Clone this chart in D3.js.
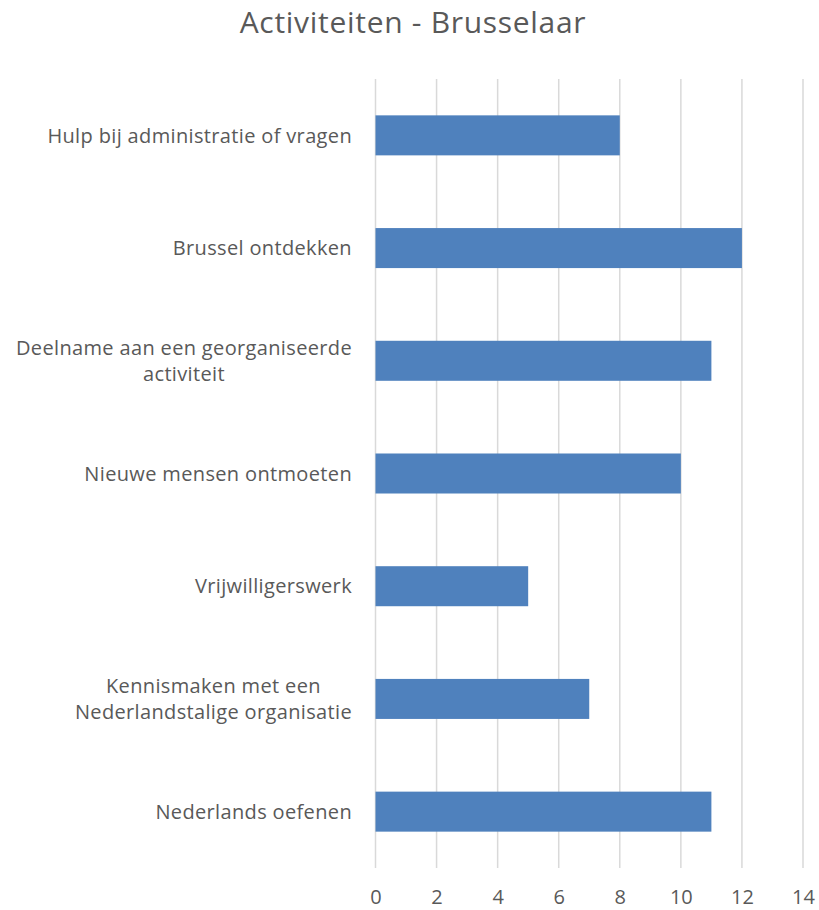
<!DOCTYPE html>
<html><head><meta charset="utf-8">
<script src="https://cdn.jsdelivr.net/npm/d3@7"></script>
<style>body{margin:0;background:#fff}svg{display:block}</style>
</head><body>
<svg id="c" width="819" height="910"></svg>
<script>
const title = "Activiteiten - Brusselaar";
const categories = [
  "Hulp bij administratie of vragen",
  "Brussel ontdekken",
  "Deelname aan een georganiseerde activiteit",
  "Nieuwe mensen ontmoeten",
  "Vrijwilligerswerk",
  "Kennismaken met een Nederlandstalige organisatie",
  "Nederlands oefenen"
];
const values = [8, 12, 11, 10, 5, 7, 11];
const xTicks = [0, 2, 4, 6, 8, 10, 12, 14];

(function () {
const font = "'Open Sans', sans-serif";
const textColor = "#595959";
const svg = d3.select("#c");
const pLeft = 375.5, pRight = 803, pTop = 79, pBottom = 868;

const x = d3.scaleLinear().domain([0, 14]).range([pLeft, pRight]);
const y = d3.scaleBand().domain(categories).range([pTop, pBottom])
  .paddingInner(0.645).paddingOuter(0.3225);

svg.append("text").attr("x", 413).attr("y", 33)
  .attr("text-anchor", "middle").attr("font-family", font)
  .attr("font-size", 30).attr("letter-spacing", 0.7)
  .attr("fill", textColor).text(title);

svg.append("g").selectAll("line").data(xTicks).join("line")
  .attr("x1", d => x(d)).attr("x2", d => x(d))
  .attr("y1", pTop).attr("y2", pBottom)
  .attr("stroke", "#D9D9D9").attr("stroke-width", 1.5);

svg.append("g").selectAll("rect").data(values).join("rect")
  .attr("x", x(0)).attr("y", (d, i) => y(categories[i]))
  .attr("width", d => x(d) - x(0)).attr("height", y.bandwidth())
  .attr("fill", "#4F81BD");

const xAxis = d3.axisBottom(x).tickValues(xTicks).tickSize(0).tickPadding(0);
const gx = svg.append("g").attr("transform", "translate(0,904)").call(xAxis);
gx.select(".domain").remove();
gx.selectAll("text").attr("font-family", font).attr("font-size", 20)
  .attr("fill", textColor).attr("dy", null).attr("y", 0);

const maxW = 350, lineH = 26, labelX = 352;
const gy = svg.append("g");
categories.forEach(cat => {
  const cy = y(cat) + y.bandwidth() / 2;
  const t = gy.append("text").attr("font-family", font).attr("font-size", 20)
    .attr("letter-spacing", 0.35).attr("fill", textColor);
  const words = cat.split(" ");
  const lines = [];
  let cur = [];
  words.forEach(w => {
    const test = cur.concat(w).join(" ");
    t.text(test);
    if (t.node().getComputedTextLength() > maxW && cur.length) {
      lines.push(cur.join(" "));
      cur = [w];
    } else cur.push(w);
  });
  lines.push(cur.join(" "));
  const widths = lines.map(l => { t.text(l); return t.node().getComputedTextLength(); });
  t.text(null);
  const maxLine = d3.max(widths);
  const cx = labelX - maxLine / 2;
  t.attr("text-anchor", "middle");
  lines.forEach((l, i) => {
    t.append("tspan").attr("x", cx)
      .attr("y", cy + (i - (lines.length - 1) / 2) * lineH)
      .attr("dy", "0.36em").text(l);
  });
});
})();
</script>
</body></html>
